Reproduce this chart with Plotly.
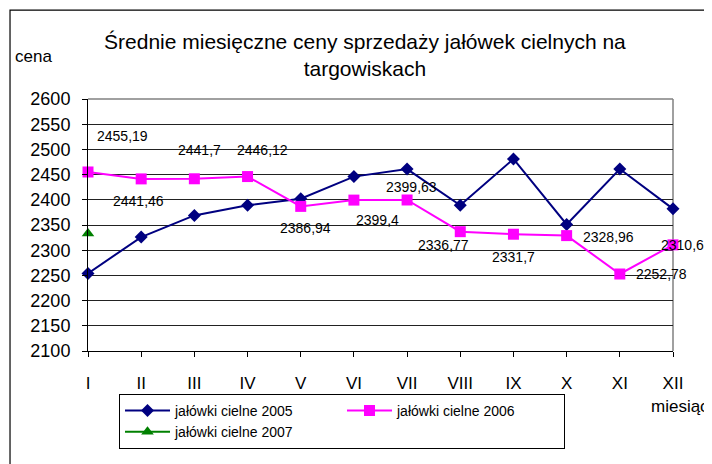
import plotly.graph_objects as go

months = ["I", "II", "III", "IV", "V", "VI", "VII", "VIII", "IX", "X", "XI", "XII"]
ceny_2005 = [2254, 2326, 2369, 2389, 2402, 2446, 2461, 2389, 2481, 2351, 2461, 2382]
ceny_2006 = [2455.19, 2441.46, 2441.7, 2446.12, 2386.94, 2399.4, 2399.63, 2336.77,
             2331.7, 2328.96, 2252.78, 2310.61]
ceny_2007 = [2333, None, None, None, None, None, None, None, None, None, None, None]
y_ticks = [2100, 2150, 2200, 2250, 2300, 2350, 2400, 2450, 2500, 2550, 2600]

# pixel offsets of the 2006 data labels (dx right, dy down)
label_offsets = [(34, -36), (-3, 22), (5, -29), (15, -27), (5, 22), (24, 20),
                 (4, -13), (-17, 13), (0, 23), (42, 1), (42, 0), (13, 0)]

FONT = "Liberation Sans, Arial, sans-serif"

def fmt(v):
    s = f"{v:.2f}".rstrip("0").rstrip(".")
    return s.replace(".", ",")

fig = go.Figure()
fig.add_trace(go.Scatter(
    x=months, y=ceny_2005, name="jałówki cielne 2005", mode="lines+markers",
    line=dict(color="#000080", width=2),
    marker=dict(symbol="diamond", size=10, color="#000080"),
    cliponaxis=False))
fig.add_trace(go.Scatter(
    x=months, y=ceny_2006, name="jałówki cielne 2006", mode="lines+markers",
    line=dict(color="#FF00FF", width=2),
    marker=dict(symbol="square", size=11, color="#FF00FF"),
    cliponaxis=False))
fig.add_trace(go.Scatter(
    x=months, y=ceny_2007, name="jałówki cielne 2007", mode="lines+markers",
    line=dict(color="#008000", width=2),
    marker=dict(symbol="triangle-up", size=11, color="#008000"),
    cliponaxis=False))

annotations = []
for m, v, (dx, dy) in zip(months, ceny_2006, label_offsets):
    annotations.append(dict(x=m, y=v, xref="x", yref="y", text=fmt(v), showarrow=False,
                            xshift=dx, yshift=-dy, font=dict(family=FONT, size=14, color="black")))
annotations.append(dict(x=-0.0932, y=1.1667, xref="paper", yref="paper", text="cena",
                        showarrow=False, xanchor="center", yanchor="middle",
                        font=dict(family=FONT, size=17, color="black")))
annotations.append(dict(x=0.959, y=-0.222, xref="paper", yref="paper", text="miesiąc",
                        showarrow=False, xanchor="left", yanchor="middle",
                        font=dict(family=FONT, size=17, color="black")))

shapes = [
    # outer chart frame (extends beyond the page on right/bottom)
    dict(type="rect", xref="paper", yref="paper", x0=-0.1333, x1=1.1, y0=-0.6, y1=1.353,
         line=dict(color="black", width=1.2), layer="below"),
    # gray plot-area frame: top and right
    dict(type="line", xref="paper", yref="paper", x0=0, x1=1, y0=1, y1=1,
         line=dict(color="#808080", width=1.5), layer="above"),
    dict(type="line", xref="paper", yref="paper", x0=1, x1=1, y0=0, y1=1,
         line=dict(color="#808080", width=1.5), layer="below"),
]

# the page body adds an 8px offset, so the figure is 8px smaller than the window
fig.update_layout(
    width=704, height=456,
    margin=dict(l=80, r=39, t=91, b=113),
    paper_bgcolor="white", plot_bgcolor="white",
    font=dict(family=FONT, color="black"),
    title=dict(text="Średnie miesięczne ceny sprzedaży jałówek cielnych na<br>targowiskach",
               x=0.507, xanchor="center", xref="container",
               y=0.91, yanchor="middle", yref="container",
               font=dict(family=FONT, size=21, color="black")),
    showlegend=True,
    legend=dict(orientation="h", x=0.053, y=-0.17, xanchor="left", yanchor="top",
                bordercolor="black", borderwidth=1, bgcolor="white",
                itemwidth=45, entrywidth=162, entrywidthmode="pixels", tracegroupgap=0,
                font=dict(family=FONT, size=14, color="black")),
    annotations=annotations,
    shapes=shapes,
)
fig.update_xaxes(type="category", range=[0, 11], showgrid=False,
                 showline=True, linecolor="black", linewidth=1,
                 ticks="outside", ticklen=5, tickcolor="black",
                 ticklabelstandoff=12, automargin=False,
                 tickfont=dict(family=FONT, size=17, color="black"), zeroline=False)
fig.update_yaxes(range=[2100, 2600], tickvals=y_ticks, ticktext=[str(t) for t in y_ticks],
                 showgrid=True, gridcolor="#222222", gridwidth=1,
                 showline=True, linecolor="black", linewidth=1,
                 ticks="outside", ticklen=5, tickcolor="black",
                 ticklabelstandoff=8, automargin=False,
                 tickfont=dict(family=FONT, size=18, color="black"), zeroline=False)

fig.write_html("out.html")
